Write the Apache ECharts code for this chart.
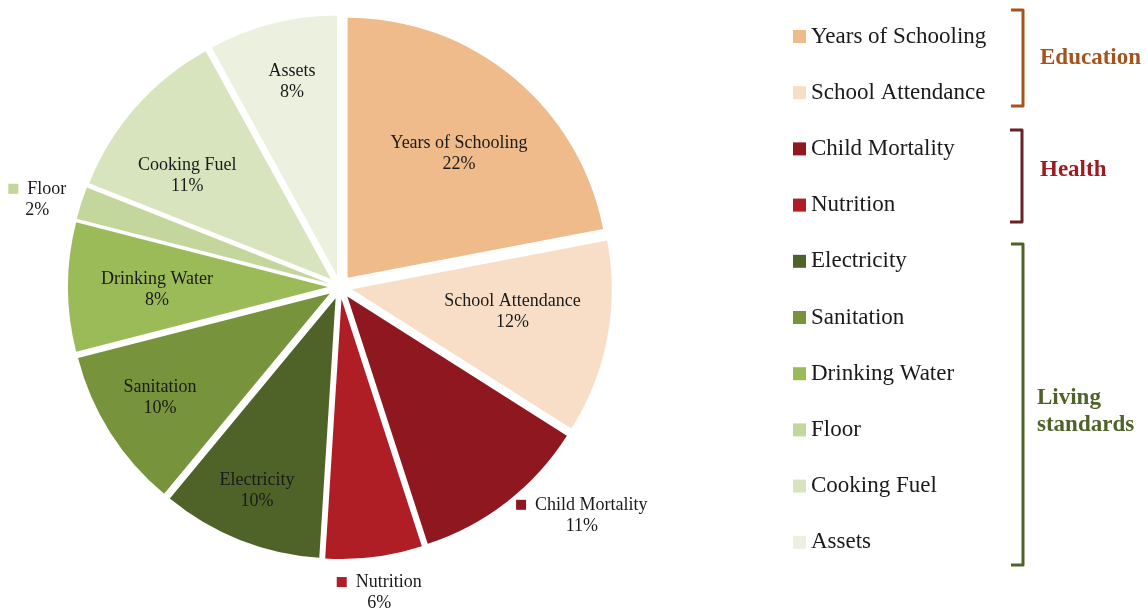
<!DOCTYPE html>
<html>
<head>
<meta charset="utf-8">
<script src="https://cdn.jsdelivr.net/npm/echarts@6/dist/echarts.min.js"></script>
<style>
  html, body { margin: 0; padding: 0; background: #fff; }
  #chart { width: 1148px; height: 608px; }
</style>
</head>
<body>
<div id="chart"></div>
<script>
const categories = ['Years of Schooling', 'School Attendance', 'Child Mortality', 'Nutrition',
  'Electricity', 'Sanitation', 'Drinking Water', 'Floor', 'Cooking Fuel', 'Assets'];
const shares = [22, 12, 11, 6, 10, 10, 8, 2, 11, 8];
const colors = ['#EFBB8A', '#F8DEC6', '#8E1720', '#B01E25', '#4F6228',
  '#77933C', '#9BBB59', '#C3D69B', '#D7E4BD', '#EBF1DE'];
// slices whose label sits outside the pie, with a colour key
const outsideLabels = ['Child Mortality', 'Nutrition', 'Floor'];

// small label nudges, [dx, dy] in px
const labelNudge = {
  'Years of Schooling': [-4, 15], 'School Attendance': [-17, -11], 'Electricity': [-12, 24],
  'Sanitation': [-17, 7], 'Drinking Water': [10, 3], 'Cooking Fuel': [-8, 16], 'Assets': [0, -18],
  'Child Mortality': [50, -19], 'Nutrition': [0, -5], 'Floor': [-5, 9]
};

const FONT = 'Liberation Serif';
const CENTER = [340, 287];

const chart = echarts.init(document.getElementById('chart'), null, { renderer: 'canvas' });

const rich = { n: { fontFamily: FONT, fontSize: 18, lineHeight: 21, color: '#1a1a1a' }, g: { width: 9 } };
categories.forEach((c, i) => {
  rich['m' + i] = { width: 10, height: 10, backgroundColor: colors[i] };
});

function nudge(p) {
  const d = labelNudge[categories[p.dataIndex]] || [0, 0];
  return { dx: d[0], dy: d[1] };
}

function bracket(x, y0, y1, color) {
  return {
    type: 'polyline',
    silent: true,
    shape: { points: [[x - 12, y0], [x, y0], [x, y1], [x - 12, y1]] },
    style: { stroke: color, lineWidth: 3, fill: null, lineJoin: 'round' }
  };
}

function groupText(x, y, text, color) {
  return {
    type: 'text',
    silent: true,
    x, y,
    style: { text, fill: color, font: 'bold 23px "' + FONT + '"', lineHeight: 27, verticalAlign: 'middle' }
  };
}

chart.setOption({
  animation: false,
  legend: {
    orient: 'vertical',
    left: 788,
    top: 20,
    icon: 'rect',
    itemWidth: 13,
    itemHeight: 13,
    itemGap: 33.2,
    selectedMode: false,
    data: categories,
    textStyle: { fontFamily: FONT, fontSize: 23, lineHeight: 22, color: '#1a1a1a' }
  },
  graphic: [
    bracket(1023, 10, 106, '#A5531C'),
    bracket(1022, 130, 222, '#6B2227'),
    bracket(1023, 244, 565, '#4F6228'),
    groupText(1040, 58, 'Education', '#A5531C'),
    groupText(1040, 170, 'Health', '#9B1C22'),
    groupText(1037, 412, 'Living\nstandards', '#4F6228')
  ],
  series: [
    {
      type: 'pie',
      center: CENTER,
      radius: 260,
      startAngle: 90,
      selectedMode: 'multiple',
      selectedOffset: 12,
      avoidLabelOverlap: false,
      label: { show: false },
      labelLine: { show: false },
      emphasis: { disabled: true },
      data: categories.map((name, i) => ({
        name, value: shares[i], selected: true, itemStyle: { color: colors[i] }
      }))
    },
    {
      // labels inside the slices
      type: 'pie',
      center: CENTER,
      radius: 380,
      startAngle: 90,
      silent: true,
      legendHoverLink: false,
      avoidLabelOverlap: false,
      percentPrecision: 0,
      itemStyle: { color: 'rgba(0,0,0,0)' },
      labelLine: { show: false },
      label: {
        position: 'inside',
        formatter: '{b}\n{d}%',
        fontFamily: FONT, fontSize: 18, lineHeight: 21, color: '#1a1a1a'
      },
      labelLayout: nudge,
      emphasis: { disabled: true },
      data: categories.map((name, i) => ({
        name, value: shares[i], label: { show: outsideLabels.indexOf(name) < 0 }
      }))
    },
    {
      // labels outside the pie, with colour key
      type: 'pie',
      center: CENTER,
      radius: 620,
      startAngle: 90,
      silent: true,
      legendHoverLink: false,
      avoidLabelOverlap: false,
      percentPrecision: 0,
      itemStyle: { color: 'rgba(0,0,0,0)' },
      labelLine: { show: false },
      label: {
        position: 'inside',
        formatter: (p) => `{m${p.dataIndex}|}{g|}{n|${p.name}}\n{n|${p.percent}%}`,
        rich
      },
      labelLayout: nudge,
      emphasis: { disabled: true },
      data: categories.map((name, i) => ({
        name, value: shares[i], label: { show: outsideLabels.indexOf(name) >= 0 }
      }))
    }
  ]
});

window.addEventListener('resize', () => chart.resize());
</script>
</body>
</html>
